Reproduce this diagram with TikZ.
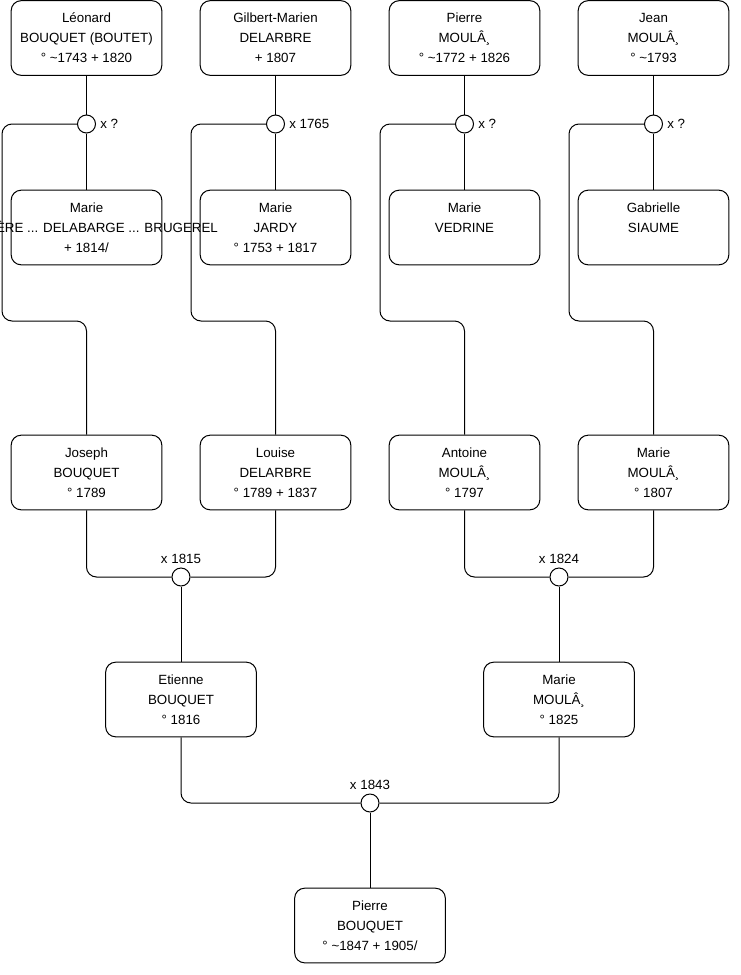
\documentclass[tikz,border=0pt]{standalone}
\usepackage{fontspec}
\setmainfont{Liberation Sans}
\usetikzlibrary{positioning,calc}

\newcommand{\tld}{\textasciitilde}

\begin{document}
\begin{tikzpicture}[
  x=0.75pt, y=-0.75pt,
  person/.style={draw, rounded corners=7.5pt, align=center,
                 font=\fontsize{10}{15}\selectfont, line width=0.75pt,
                 minimum width=113pt, minimum height=56pt, inner sep=0pt},
  union/.style={draw, circle, minimum size=13.5pt, inner sep=0pt,
                line width=0.75pt, fill=white},
  lbl/.style={font=\fontsize{10}{11}\selectfont, inner sep=0pt},
  link/.style={line width=0.75pt, rounded corners=7.5pt}
]
  \useasboundingbox (0,0) rectangle (740,975);

  % grandparents
  \node[person] (leonard) at (86.5,38) {L\'eonard\\BOUQUET (BOUTET)\\° \tld1743 + 1820};
  \node[person] (gilbert) at (275.5,38) {Gilbert-Marien\\DELARBRE\\+ 1807};
  \node[person] (pierreM) at (464.5,38) {Pierre\\MOULÂ¸\\° \tld1772 + 1826};
  \node[person] (jean)    at (653.5,38) {Jean\\MOULÂ¸\\° \tld1793};

  \node[union] (uA) at (86.5,124) {};
  \node[union] (uB) at (275.5,124) {};
  \node[union] (uC) at (464.5,124) {};
  \node[union] (uD) at (653.5,124) {};
  \node[lbl, right=3pt of uA] {x ?};
  \node[lbl, right=3pt of uB] {x 1765};
  \node[lbl, right=3pt of uC] {x ?};
  \node[lbl, right=3pt of uD] {x ?};

  \node[person] (marieD) at (86.5,227.5) {Marie\\\makebox[0pt][c]{\hspace*{197pt}\llap{ÈRE ... DELABARGE ... BRUGEREL}}\\+ 1814/};
  \node[person] (marieJ) at (275.5,227.5) {Marie\\JARDY\\° 1753 + 1817};
  \node[person] (marieV) at (464.5,227.5) {Marie\\VEDRINE\\~};
  \node[person] (gabri)  at (653.5,227.5) {Gabrielle\\SIAUME\\~};

  % parents
  \node[person] (joseph)  at (86.5,472.5) {Joseph\\BOUQUET\\° 1789};
  \node[person] (louise)  at (275.5,472.5) {Louise\\DELARBRE\\° 1789 + 1837};
  \node[person] (antoine) at (464.5,472.5) {Antoine\\MOULÂ¸\\° 1797};
  \node[person] (marieM)  at (653.5,472.5) {Marie\\MOULÂ¸\\° 1807};

  \node[union] (uE) at (181,577) {};
  \node[union] (uF) at (559,577) {};
  \node[lbl, above=3pt of uE] {x 1815};
  \node[lbl, above=3pt of uF] {x 1824};

  \node[person] (etienne) at (181,699.5) {Etienne\\BOUQUET\\° 1816};
  \node[person] (marieP)  at (559,699.5) {Marie\\MOULÂ¸\\° 1825};

  \node[union] (uG) at (370,803) {};
  \node[lbl, above=3pt of uG] {x 1843};

  \node[person] (pierre) at (370,925.5) {Pierre\\BOUQUET\\° \tld1847 + 1905/};

  % links
  \draw[link] (leonard) -- (uA);
  \draw[link] (gilbert) -- (uB);
  \draw[link] (pierreM) -- (uC);
  \draw[link] (jean) -- (uD);
  \draw[link] (uA) -- (marieD);
  \draw[link] (uB) -- (marieJ);
  \draw[link] (uC) -- (marieV);
  \draw[link] (uD) -- (gabri);

  \draw[link] (uA.west) -| (2,321) -| (joseph.north);
  \draw[link] (uB.west) -| (191,321) -| (louise.north);
  \draw[link] (uC.west) -| (380,321) -| (antoine.north);
  \draw[link] (uD.west) -| (569,321) -| (marieM.north);

  \draw[link] (joseph.south) |- (uE.west);
  \draw[link] (louise.south) |- (uE.east);
  \draw[link] (antoine.south) |- (uF.west);
  \draw[link] (marieM.south) |- (uF.east);
  \draw[link] (uE) -- (etienne);
  \draw[link] (uF) -- (marieP);

  \draw[link] (etienne.south) |- (uG.west);
  \draw[link] (marieP.south) |- (uG.east);
  \draw[link] (uG) -- (pierre);
\end{tikzpicture}
\end{document}
